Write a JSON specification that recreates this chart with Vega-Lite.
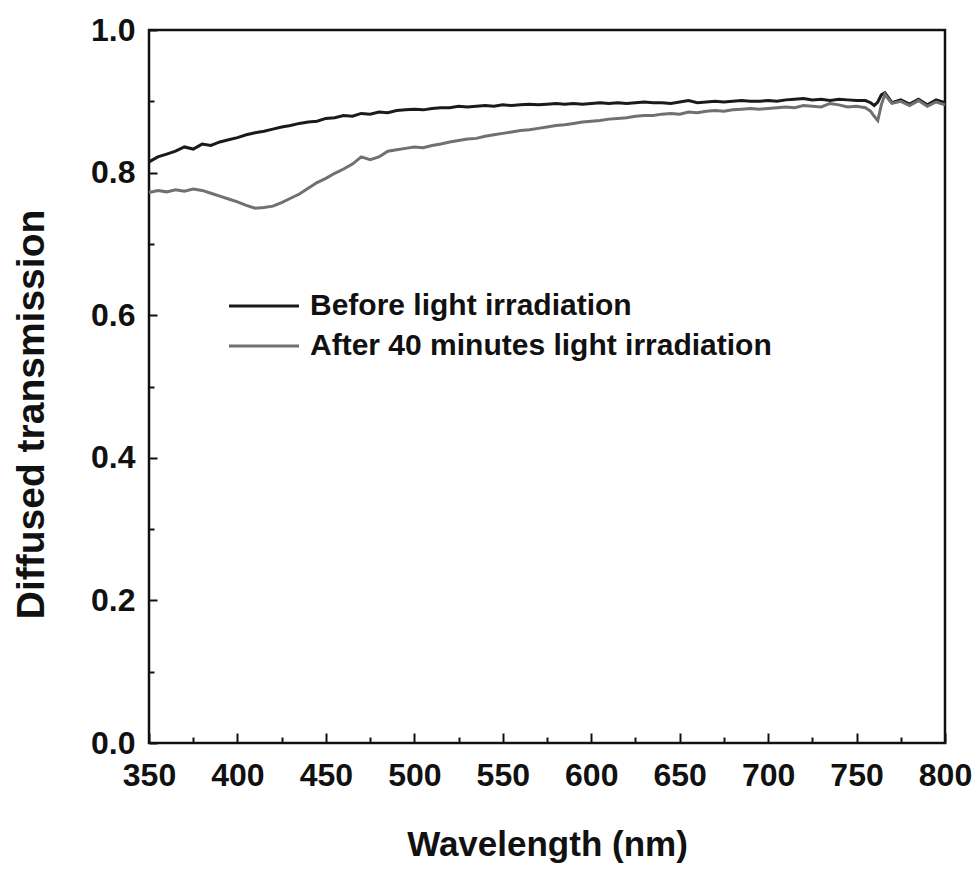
{
  "$schema": "https://vega.github.io/schema/vega-lite/v6.json",
  "width": 796,
  "height": 713,
  "autosize": {"type": "none"},
  "padding": {"left": 149, "top": 30, "right": 33, "bottom": 126},
  "background": "white",
  "config": {
    "view": {"stroke": "#111111", "strokeWidth": 2.5},
    "font": "Liberation Sans",
    "axis": {"grid": false, "domain": false, "labelFont": "Liberation Sans", "titleFont": "Liberation Sans", "labelFontWeight": "bold", "titleFontWeight": "bold", "labelColor": "#111111", "titleColor": "#111111", "tickColor": "#111111", "tickWidth": 2}
  },
  "data": {"values": [
    {"wl":350,"s":"Before light irradiation","t":0.815},{"wl":355,"s":"Before light irradiation","t":0.822},{"wl":360,"s":"Before light irradiation","t":0.826},{"wl":365,"s":"Before light irradiation","t":0.830},{"wl":370,"s":"Before light irradiation","t":0.836},{"wl":375,"s":"Before light irradiation","t":0.833},{"wl":380,"s":"Before light irradiation","t":0.840},{"wl":385,"s":"Before light irradiation","t":0.838},{"wl":390,"s":"Before light irradiation","t":0.843},{"wl":395,"s":"Before light irradiation","t":0.846},{"wl":400,"s":"Before light irradiation","t":0.849},{"wl":405,"s":"Before light irradiation","t":0.853},{"wl":410,"s":"Before light irradiation","t":0.856},{"wl":415,"s":"Before light irradiation","t":0.858},{"wl":420,"s":"Before light irradiation","t":0.861},{"wl":425,"s":"Before light irradiation","t":0.864},{"wl":430,"s":"Before light irradiation","t":0.866},{"wl":435,"s":"Before light irradiation","t":0.869},{"wl":440,"s":"Before light irradiation","t":0.871},{"wl":445,"s":"Before light irradiation","t":0.872},{"wl":450,"s":"Before light irradiation","t":0.876},{"wl":455,"s":"Before light irradiation","t":0.877},{"wl":460,"s":"Before light irradiation","t":0.880},{"wl":465,"s":"Before light irradiation","t":0.879},{"wl":470,"s":"Before light irradiation","t":0.883},{"wl":475,"s":"Before light irradiation","t":0.882},{"wl":480,"s":"Before light irradiation","t":0.885},{"wl":485,"s":"Before light irradiation","t":0.884},{"wl":490,"s":"Before light irradiation","t":0.887},{"wl":495,"s":"Before light irradiation","t":0.888},{"wl":500,"s":"Before light irradiation","t":0.889},{"wl":505,"s":"Before light irradiation","t":0.888},{"wl":510,"s":"Before light irradiation","t":0.890},{"wl":515,"s":"Before light irradiation","t":0.891},{"wl":520,"s":"Before light irradiation","t":0.891},{"wl":525,"s":"Before light irradiation","t":0.893},{"wl":530,"s":"Before light irradiation","t":0.892},{"wl":535,"s":"Before light irradiation","t":0.893},{"wl":540,"s":"Before light irradiation","t":0.894},{"wl":545,"s":"Before light irradiation","t":0.893},{"wl":550,"s":"Before light irradiation","t":0.895},{"wl":555,"s":"Before light irradiation","t":0.894},{"wl":560,"s":"Before light irradiation","t":0.895},{"wl":565,"s":"Before light irradiation","t":0.896},{"wl":570,"s":"Before light irradiation","t":0.895},{"wl":575,"s":"Before light irradiation","t":0.896},{"wl":580,"s":"Before light irradiation","t":0.897},{"wl":585,"s":"Before light irradiation","t":0.896},{"wl":590,"s":"Before light irradiation","t":0.897},{"wl":595,"s":"Before light irradiation","t":0.896},{"wl":600,"s":"Before light irradiation","t":0.897},{"wl":605,"s":"Before light irradiation","t":0.898},{"wl":610,"s":"Before light irradiation","t":0.897},{"wl":615,"s":"Before light irradiation","t":0.898},{"wl":620,"s":"Before light irradiation","t":0.897},{"wl":625,"s":"Before light irradiation","t":0.898},{"wl":630,"s":"Before light irradiation","t":0.899},{"wl":635,"s":"Before light irradiation","t":0.898},{"wl":640,"s":"Before light irradiation","t":0.898},{"wl":645,"s":"Before light irradiation","t":0.897},{"wl":650,"s":"Before light irradiation","t":0.899},{"wl":655,"s":"Before light irradiation","t":0.901},{"wl":660,"s":"Before light irradiation","t":0.898},{"wl":665,"s":"Before light irradiation","t":0.899},{"wl":670,"s":"Before light irradiation","t":0.900},{"wl":675,"s":"Before light irradiation","t":0.899},{"wl":680,"s":"Before light irradiation","t":0.900},{"wl":685,"s":"Before light irradiation","t":0.901},{"wl":690,"s":"Before light irradiation","t":0.900},{"wl":695,"s":"Before light irradiation","t":0.900},{"wl":700,"s":"Before light irradiation","t":0.901},{"wl":705,"s":"Before light irradiation","t":0.900},{"wl":710,"s":"Before light irradiation","t":0.902},{"wl":715,"s":"Before light irradiation","t":0.903},{"wl":720,"s":"Before light irradiation","t":0.904},{"wl":725,"s":"Before light irradiation","t":0.902},{"wl":730,"s":"Before light irradiation","t":0.903},{"wl":735,"s":"Before light irradiation","t":0.901},{"wl":740,"s":"Before light irradiation","t":0.903},{"wl":745,"s":"Before light irradiation","t":0.902},{"wl":750,"s":"Before light irradiation","t":0.901},{"wl":755,"s":"Before light irradiation","t":0.901},{"wl":758,"s":"Before light irradiation","t":0.898},{"wl":760,"s":"Before light irradiation","t":0.894},{"wl":762,"s":"Before light irradiation","t":0.899},{"wl":764,"s":"Before light irradiation","t":0.909},{"wl":766,"s":"Before light irradiation","t":0.912},{"wl":768,"s":"Before light irradiation","t":0.905},{"wl":770,"s":"Before light irradiation","t":0.898},{"wl":775,"s":"Before light irradiation","t":0.902},{"wl":780,"s":"Before light irradiation","t":0.896},{"wl":785,"s":"Before light irradiation","t":0.903},{"wl":790,"s":"Before light irradiation","t":0.895},{"wl":795,"s":"Before light irradiation","t":0.902},{"wl":800,"s":"Before light irradiation","t":0.898},
    {"wl":350,"s":"After 40 minutes light irradiation","t":0.772},{"wl":355,"s":"After 40 minutes light irradiation","t":0.775},{"wl":360,"s":"After 40 minutes light irradiation","t":0.773},{"wl":365,"s":"After 40 minutes light irradiation","t":0.776},{"wl":370,"s":"After 40 minutes light irradiation","t":0.774},{"wl":375,"s":"After 40 minutes light irradiation","t":0.777},{"wl":380,"s":"After 40 minutes light irradiation","t":0.775},{"wl":385,"s":"After 40 minutes light irradiation","t":0.771},{"wl":390,"s":"After 40 minutes light irradiation","t":0.767},{"wl":395,"s":"After 40 minutes light irradiation","t":0.763},{"wl":400,"s":"After 40 minutes light irradiation","t":0.759},{"wl":405,"s":"After 40 minutes light irradiation","t":0.754},{"wl":410,"s":"After 40 minutes light irradiation","t":0.750},{"wl":415,"s":"After 40 minutes light irradiation","t":0.751},{"wl":420,"s":"After 40 minutes light irradiation","t":0.753},{"wl":425,"s":"After 40 minutes light irradiation","t":0.758},{"wl":430,"s":"After 40 minutes light irradiation","t":0.764},{"wl":435,"s":"After 40 minutes light irradiation","t":0.770},{"wl":440,"s":"After 40 minutes light irradiation","t":0.778},{"wl":445,"s":"After 40 minutes light irradiation","t":0.786},{"wl":450,"s":"After 40 minutes light irradiation","t":0.792},{"wl":455,"s":"After 40 minutes light irradiation","t":0.799},{"wl":460,"s":"After 40 minutes light irradiation","t":0.805},{"wl":465,"s":"After 40 minutes light irradiation","t":0.812},{"wl":470,"s":"After 40 minutes light irradiation","t":0.822},{"wl":475,"s":"After 40 minutes light irradiation","t":0.818},{"wl":480,"s":"After 40 minutes light irradiation","t":0.822},{"wl":485,"s":"After 40 minutes light irradiation","t":0.830},{"wl":490,"s":"After 40 minutes light irradiation","t":0.832},{"wl":495,"s":"After 40 minutes light irradiation","t":0.834},{"wl":500,"s":"After 40 minutes light irradiation","t":0.836},{"wl":505,"s":"After 40 minutes light irradiation","t":0.835},{"wl":510,"s":"After 40 minutes light irradiation","t":0.838},{"wl":515,"s":"After 40 minutes light irradiation","t":0.840},{"wl":520,"s":"After 40 minutes light irradiation","t":0.843},{"wl":525,"s":"After 40 minutes light irradiation","t":0.845},{"wl":530,"s":"After 40 minutes light irradiation","t":0.847},{"wl":535,"s":"After 40 minutes light irradiation","t":0.848},{"wl":540,"s":"After 40 minutes light irradiation","t":0.851},{"wl":545,"s":"After 40 minutes light irradiation","t":0.853},{"wl":550,"s":"After 40 minutes light irradiation","t":0.855},{"wl":555,"s":"After 40 minutes light irradiation","t":0.857},{"wl":560,"s":"After 40 minutes light irradiation","t":0.859},{"wl":565,"s":"After 40 minutes light irradiation","t":0.860},{"wl":570,"s":"After 40 minutes light irradiation","t":0.862},{"wl":575,"s":"After 40 minutes light irradiation","t":0.864},{"wl":580,"s":"After 40 minutes light irradiation","t":0.866},{"wl":585,"s":"After 40 minutes light irradiation","t":0.867},{"wl":590,"s":"After 40 minutes light irradiation","t":0.869},{"wl":595,"s":"After 40 minutes light irradiation","t":0.871},{"wl":600,"s":"After 40 minutes light irradiation","t":0.872},{"wl":605,"s":"After 40 minutes light irradiation","t":0.873},{"wl":610,"s":"After 40 minutes light irradiation","t":0.875},{"wl":615,"s":"After 40 minutes light irradiation","t":0.876},{"wl":620,"s":"After 40 minutes light irradiation","t":0.877},{"wl":625,"s":"After 40 minutes light irradiation","t":0.879},{"wl":630,"s":"After 40 minutes light irradiation","t":0.880},{"wl":635,"s":"After 40 minutes light irradiation","t":0.880},{"wl":640,"s":"After 40 minutes light irradiation","t":0.882},{"wl":645,"s":"After 40 minutes light irradiation","t":0.883},{"wl":650,"s":"After 40 minutes light irradiation","t":0.882},{"wl":655,"s":"After 40 minutes light irradiation","t":0.885},{"wl":660,"s":"After 40 minutes light irradiation","t":0.884},{"wl":665,"s":"After 40 minutes light irradiation","t":0.886},{"wl":670,"s":"After 40 minutes light irradiation","t":0.887},{"wl":675,"s":"After 40 minutes light irradiation","t":0.886},{"wl":680,"s":"After 40 minutes light irradiation","t":0.888},{"wl":685,"s":"After 40 minutes light irradiation","t":0.889},{"wl":690,"s":"After 40 minutes light irradiation","t":0.890},{"wl":695,"s":"After 40 minutes light irradiation","t":0.889},{"wl":700,"s":"After 40 minutes light irradiation","t":0.890},{"wl":705,"s":"After 40 minutes light irradiation","t":0.891},{"wl":710,"s":"After 40 minutes light irradiation","t":0.892},{"wl":715,"s":"After 40 minutes light irradiation","t":0.891},{"wl":720,"s":"After 40 minutes light irradiation","t":0.894},{"wl":725,"s":"After 40 minutes light irradiation","t":0.893},{"wl":730,"s":"After 40 minutes light irradiation","t":0.892},{"wl":735,"s":"After 40 minutes light irradiation","t":0.897},{"wl":740,"s":"After 40 minutes light irradiation","t":0.895},{"wl":745,"s":"After 40 minutes light irradiation","t":0.892},{"wl":750,"s":"After 40 minutes light irradiation","t":0.893},{"wl":755,"s":"After 40 minutes light irradiation","t":0.891},{"wl":758,"s":"After 40 minutes light irradiation","t":0.886},{"wl":760,"s":"After 40 minutes light irradiation","t":0.879},{"wl":762,"s":"After 40 minutes light irradiation","t":0.873},{"wl":764,"s":"After 40 minutes light irradiation","t":0.895},{"wl":766,"s":"After 40 minutes light irradiation","t":0.910},{"wl":768,"s":"After 40 minutes light irradiation","t":0.903},{"wl":770,"s":"After 40 minutes light irradiation","t":0.897},{"wl":775,"s":"After 40 minutes light irradiation","t":0.900},{"wl":780,"s":"After 40 minutes light irradiation","t":0.894},{"wl":785,"s":"After 40 minutes light irradiation","t":0.901},{"wl":790,"s":"After 40 minutes light irradiation","t":0.893},{"wl":795,"s":"After 40 minutes light irradiation","t":0.899},{"wl":800,"s":"After 40 minutes light irradiation","t":0.895}
  ]},
  "mark": {"type": "line", "strokeWidth": 3, "interpolate": "linear"},
  "encoding": {
    "x": {"field": "wl", "type": "quantitative", "scale": {"domain": [350, 800], "nice": false, "zero": false},
      "axis": {"title": "Wavelength (nm)", "values": [350,375,400,425,450,475,500,525,550,575,600,625,650,675,700,725,750,775,800],
        "labelExpr": "datum.value % 50 === 0 ? datum.label : ''",
        "tickSize": {"condition": {"test": "datum.value % 50 === 0", "value": -10}, "value": -6},
        "labelFontSize": 32, "labelPadding": 27, "titleFontSize": 35, "titleY": 112, "titleBaseline": "alphabetic", "labelFlush": false, "labelOverlap": false}},
    "y": {"field": "t", "type": "quantitative", "scale": {"domain": [0, 1], "nice": false},
      "axis": {"title": "Diffused transmission", "values": [0,0.1,0.2,0.3,0.4,0.5,0.6,0.7,0.8,0.9,1.0],
        "labelExpr": "round(datum.value*10) % 2 === 0 ? format(datum.value, '.1f') : ''",
        "tickSize": {"condition": {"test": "round(datum.value*10) % 2 === 0", "value": -8}, "value": -5},
        "labelFontSize": 32, "labelPadding": 22, "titleFontSize": 39, "titleX": -106, "titleY": 384, "titleBaseline": "alphabetic", "titleAngle": 270, "labelFlush": false, "labelOverlap": false}},
    "color": {"field": "s", "type": "nominal", "sort": ["Before light irradiation", "After 40 minutes light irradiation"],
      "scale": {"domain": ["Before light irradiation", "After 40 minutes light irradiation"], "range": ["#1a1a1a", "#707070"]},
      "legend": {"title": null, "orient": "none", "legendX": 100, "legendY": 261, "symbolType": "M-3,0H3", "symbolSize": 544, "symbolStrokeWidth": 3,
        "labelFontSize": 30, "labelFontWeight": "bold", "labelFont": "Liberation Sans", "labelColor": "#111111", "labelLimit": 800, "rowPadding": 10, "labelOffset": 31}}
  }
}
